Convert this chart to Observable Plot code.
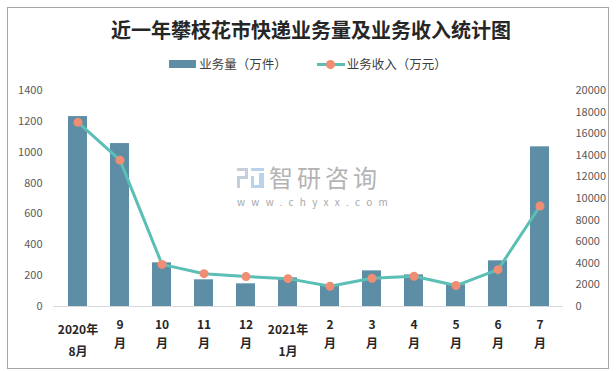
<!DOCTYPE html>
<html>
<head>
<meta charset="utf-8">
<script src="https://cdn.jsdelivr.net/npm/d3@7"></script>
<script src="https://cdn.jsdelivr.net/npm/@observablehq/plot@0.6"></script>
<style>
  body { margin: 0; background: #fff; font-family: "Noto Sans CJK SC", "Noto Sans", sans-serif; }
  #wrap { position: relative; width: 616px; height: 371px; overflow: hidden; }
  #frame { position: absolute; left: 7px; top: 7px; width: 600px; height: 360px; border: 1px solid #a6a6a6; }
  #title { position: absolute; left: 0; width: 622px; top: 17px; text-align: center; font-size: 20px; font-weight: bold; color: #262626; font-family: "Noto Sans CJK SC", serif; line-height: 26px; }
  #legend { position: absolute; left: 0; width: 616px; top: 55px; display: flex; justify-content: center; align-items: center; font-size: 12.5px; color: #404040; line-height: 18px; }
  .item { display: flex; align-items: center; }
  .sw-bar { width: 27px; height: 8px; background: #5d8ea6; margin-right: 3px; }
  .sw-line { position: relative; width: 28px; height: 8px; margin-right: 2px; }
  .sw-line .l { position: absolute; left: 0; top: 3px; width: 28px; height: 3px; background: #5bbfb5; }
  .sw-line .d { position: absolute; left: 9px; top: 0px; width: 9px; height: 9px; border-radius: 50%; background: #ef8e74; }
  #chart { position: absolute; left: 0; top: 0; }
  #wm { position: absolute; left: 237px; top: 164px; color: #b3b3b3; }
  #wm .cn { position: absolute; left: 32px; top: -1px; font-size: 24px; letter-spacing: 4px; white-space: nowrap; line-height: 28px; }
  #wm .url { position: absolute; left: 0; top: 30px; font-size: 10px; letter-spacing: 6.3px; white-space: nowrap; color: #a8a8a8; }
  #wm svg { position: absolute; left: 0; top: 4px; }
</style>
</head>
<body>
<div id="wrap">
  <div id="frame"></div>
  <div id="chart"></div>
  <div id="wm">
    <svg width="27" height="20">
      <rect x="0" y="0" width="11" height="3" fill="#c5cfdc"/>
      <rect x="8" y="0" width="3" height="10" fill="#c5cfdc"/>
      <rect x="0" y="8" width="11" height="3" fill="#c5cfdc"/>
      <rect x="0" y="8" width="3" height="12" fill="#c5cfdc"/>
      <rect x="14" y="0" width="13" height="3" fill="#b8d4ec"/>
      <rect x="14" y="8" width="3" height="12" fill="#b8d4ec"/>
      <rect x="22" y="5" width="5" height="15" fill="#b8d4ec"/>
      <rect x="14" y="17" width="13" height="3" fill="#b8d4ec"/>
    </svg>
    <div class="cn">智研咨询</div>
    <div class="url">www.chyxx.com</div>
  </div>
  <div id="title">近一年攀枝花市快递业务量及业务收入统计图</div>
  <div id="legend">
    <div class="item"><div class="sw-bar"></div><span>业务量（万件）</span></div>
    <div class="item" style="margin-left:30px"><div class="sw-line"><div class="l"></div><div class="d"></div></div><span>业务收入（万元）</span></div>
  </div>
</div>
<script>
const months = ["2020年\n8月", "9\n月", "10\n月", "11\n月", "12\n月", "2021年\n1月", "2\n月", "3\n月", "4\n月", "5\n月", "6\n月", "7\n月"];
const volume = [1231, 1056, 283, 173, 147, 186, 136, 231, 205, 141, 296, 1035];
const revenue = [17050, 13550, 3900, 3040, 2770, 2580, 1870, 2610, 2800, 1940, 3410, 9310];
const leftTicks = [0, 200, 400, 600, 800, 1000, 1200, 1400];
const rightTicks = [0, 2000, 4000, 6000, 8000, 10000, 12000, 14000, 16000, 18000, 20000];

const k = 1400 / 20000; // right axis mapped onto left scale
const data = months.map((m, i) => ({month: m, vol: volume[i], rev: revenue[i]}));
const yearLabels = months.filter(m => m.includes("年"));
const monthLabels = months.filter(m => !m.includes("年"));

const chart = Plot.plot({
  width: 616,
  height: 371,
  marginLeft: 53,
  marginRight: 53,
  marginTop: 90,
  marginBottom: 65,
  style: {fontFamily: "'Noto Sans CJK SC', sans-serif", background: "transparent"},
  x: {domain: months, paddingInner: 0.55, paddingOuter: 0.275, label: null},
  y: {domain: [0, 1400], label: null},
  marks: [
    Plot.barY(data, {x: "month", y: "vol", fill: "#5d8ea6"}),
    Plot.ruleY([0], {stroke: "#d9d9d9", strokeWidth: 1}),
    Plot.line(data, {x: "month", y: d => d.rev * k, stroke: "#5bbfb5", strokeWidth: 3}),
    Plot.dot(data, {x: "month", y: d => d.rev * k, r: 4.5, fill: "#ef8e74", stroke: null}),
    Plot.axisY({anchor: "left", ticks: leftTicks, tickFormat: v => String(v), tickSize: 0, tickPadding: 11, fontSize: 11, fill: "#595959", label: null}),
    Plot.axisY({anchor: "right", ticks: rightTicks.map(v => v * k), tickFormat: v => String(Math.round(v / k)), tickSize: 0, tickPadding: 12, fontSize: 11, fill: "#595959", label: null}),
    Plot.axisX({ticks: yearLabels, tickSize: 0, tickPadding: 12, fontSize: 12, fontWeight: "bold", fill: "#262626", lineHeight: 1.85, label: null}),
    Plot.axisX({ticks: monthLabels, tickSize: 0, tickPadding: 9, fontSize: 12, fontWeight: "bold", fill: "#262626", lineHeight: 1.6, label: null})
  ]
});
document.getElementById("chart").appendChild(chart);
</script>
</body>
</html>
